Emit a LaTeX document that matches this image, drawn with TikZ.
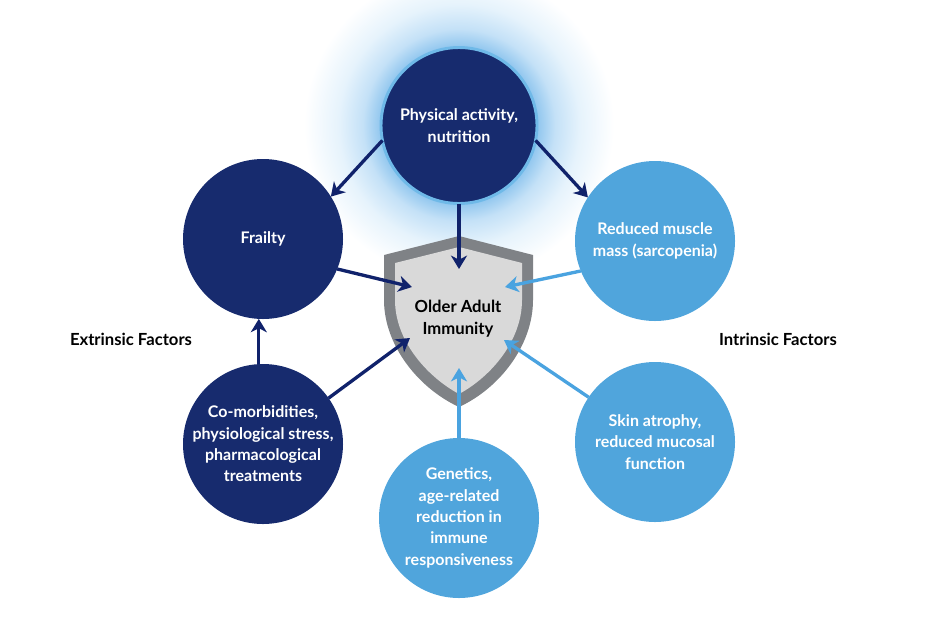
\documentclass[tikz,border=0pt]{standalone}
\usepackage{fontspec}
\setmainfont{Lato}
\usetikzlibrary{arrows.meta}
\definecolor{navyfill}{HTML}{172B6E}
\definecolor{navyline}{HTML}{10226B}
\definecolor{skyfill}{HTML}{50A5DC}
\definecolor{skyline}{HTML}{4AA3E0}
\definecolor{ringblue}{HTML}{6FB9E8}
\definecolor{glowa}{HTML}{94C8EF}
\definecolor{glowb}{HTML}{C4E1F7}
\definecolor{glowc}{HTML}{E6F3FC}
\definecolor{shieldrim}{HTML}{7F8286}
\definecolor{shieldface}{HTML}{D9D9D9}
\pgfdeclareradialshading{glowshade}{\pgfpoint{0bp}{0bp}}{%
  color(0bp)=(glowa);
  color(12.8bp)=(glowa);
  color(15.5bp)=(glowb);
  color(19.5bp)=(glowc);
  color(25bp)=(white);
  color(50bp)=(white)}
\tikzset{
  circ/.style={circle, minimum size=120pt, inner sep=0pt, outer sep=0pt, align=center, text=white, font=\bfseries\fontsize{12}{16}\selectfont},
  darkcirc/.style={circ, fill=navyfill},
  lightcirc/.style={circ, fill=skyfill},
  side/.style={font=\fontsize{12.5}{16.5}\selectfont\bfseries, text=black, align=center},
  darkarrow/.style={draw=navyline, line width=2.5pt, -{Stealth[length=10pt, width=12pt, inset=3pt]}},
  lightarrow/.style={draw=skyline, line width=2.5pt, -{Stealth[length=10pt, width=12pt, inset=3pt]}}
}
\begin{document}
\begin{tikzpicture}[x=0.75pt, y=-0.75pt]
    \useasboundingbox (0,0) rectangle (930,640);
    \shade[shading=glowshade] (459,125) circle (155);

    \fill[shieldrim] (459,236) -- (533,255) -- (533,300) .. controls (533,345) and (500,388) .. (459,407) .. controls (418,388) and (384,345) .. (384,300) -- (384,255) -- cycle;
    \fill[shieldface] (459,247) -- (522,263) -- (522,300) .. controls (522,340) and (492,376) .. (459,394) .. controls (426,376) and (395,340) .. (395,300) -- (395,263) -- cycle;

    \node[darkcirc, draw=ringblue, line width=2.2pt, minimum size=117pt] (physical) at (459,125.5) {Physical activity,\\nutrition};
    \node[darkcirc] (frailty) at (263,239) {Frailty};
    \node[darkcirc] (comorb) at (263,444) {Co-morbidities,\\physiological stress,\\pharmacological\\treatments};
    \node[lightcirc] (muscle) at (655,241) {Reduced muscle\\mass (sarcopenia)};
    \node[lightcirc] (skin) at (655,442) {Skin atrophy,\\reduced mucosal\\function};
    \node[lightcirc] (genetics) at (459,518) {Genetics,\\age-related\\reduction in\\immune\\responsiveness};

    \node[side] (immunity) at (458,319) {Older Adult\\Immunity};
    \node[side] (extrinsic) at (131,339) {Extrinsic Factors};
    \node[side] (intrinsic) at (778,339) {Intrinsic Factors};

    \coordinate (tiptop) at (459,269);
    \coordinate (tipfrailty) at (412,287);
    \coordinate (tipmuscle) at (505,287);
    \coordinate (tipcomorb) at (410,338);
    \coordinate (tipskin) at (504,340);
    \coordinate (tipgenetics) at (459,368);

    \draw[darkarrow] (physical.191) -- (frailty.32);
    \draw[darkarrow] (physical.-11) -- (muscle.147);
    \draw[darkarrow] (physical.south) -- (tiptop);
    \draw[darkarrow] (frailty.-22) -- (tipfrailty);
    \draw[darkarrow] (comorb.93) -- (frailty.267);
    \draw[darkarrow] (comorb.35) -- (tipcomorb);
    \draw[lightarrow] (muscle.202) -- (tipmuscle);
    \draw[lightarrow] (skin.146) -- (tipskin);
    \draw[lightarrow] (genetics.north) -- (tipgenetics);
    \end{tikzpicture}
\end{document}
